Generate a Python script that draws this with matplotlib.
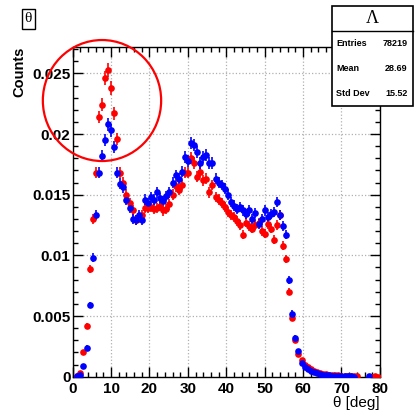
import numpy as np
import matplotlib
matplotlib.use('Agg')
import matplotlib.pyplot as plt
from matplotlib.patches import Ellipse, Rectangle
from matplotlib.ticker import MultipleLocator, FuncFormatter

# histogram: 100 bins over 0-80 deg
n_bins = 100
x_lo, x_hi = 0.0, 80.0

red_vals = [
    0.0, 0.00003, 0.0003, 0.0020, 0.0042, 0.0089, 0.0130, 0.0168, 0.0214, 0.0224,
    0.0246, 0.0253, 0.0238, 0.0217, 0.0196, 0.0168, 0.0160, 0.0150, 0.0143, 0.0137,
    0.0129, 0.0131, 0.0133, 0.0139, 0.0139, 0.0140, 0.0138, 0.0139, 0.0141, 0.0137,
    0.0138, 0.0142, 0.0150, 0.0157, 0.0154, 0.0158, 0.0168, 0.0168, 0.0180, 0.0176,
    0.0165, 0.0169, 0.0162, 0.0163, 0.0152, 0.0158, 0.0148, 0.0146, 0.0143, 0.0140,
    0.0136, 0.0133, 0.0132, 0.0128, 0.0125, 0.0117, 0.0127, 0.0124, 0.0122, 0.0125,
    0.0127, 0.0120, 0.0118, 0.0126, 0.0122, 0.0113, 0.0125, 0.0133, 0.0108, 0.0097,
    0.0070, 0.0048, 0.0030, 0.0019, 0.0014, 0.0010, 0.0008, 0.0006, 0.0005, 0.0004,
    0.0003, 0.00025, 0.0002, 0.00015, 0.00012, 0.0001, 0.0001, 0.00008, 0.00006, 0.00005,
    0.00005, 0.00003, 0.00002, 0.0, 0.0, 0.0, 0.0, 0.00001, 0.00002, 0.00001,
]

blue_vals = [
    0.0, 0.00003, 0.0001, 0.0009, 0.0024, 0.0059, 0.0098, 0.0133, 0.0168, 0.0182,
    0.0195, 0.0208, 0.0203, 0.0189, 0.0168, 0.0159, 0.0156, 0.0146, 0.0139, 0.0130,
    0.0129, 0.0133, 0.0129, 0.0146, 0.0143, 0.0148, 0.0146, 0.0152, 0.0147, 0.0145,
    0.0149, 0.0152, 0.0160, 0.0166, 0.0163, 0.0169, 0.0181, 0.0178, 0.0193, 0.0191,
    0.0185, 0.0176, 0.0181, 0.0183, 0.0176, 0.0176, 0.0163, 0.0160, 0.0158, 0.0155,
    0.0150, 0.0144, 0.0141, 0.0138, 0.0140, 0.0137, 0.0134, 0.0137, 0.0130, 0.0135,
    0.0126, 0.0130, 0.0137, 0.0132, 0.0134, 0.0136, 0.0144, 0.0133, 0.0124, 0.0117,
    0.0080, 0.0052, 0.0032, 0.0021, 0.0011, 0.0008, 0.0006, 0.0005, 0.0004, 0.0003,
    0.0002, 0.00015, 0.0001, 0.0001, 0.00008, 0.00006, 0.00005, 0.00004, 0.00003, 0.00002,
    0.00002, 0.00001, 0.0, 0.0, 0.0, 0.0, 0.00002, 0.0, 0.0, 0.0,
]

n_entries = 78219
mean_val = 28.69
std_val = 15.52

plt.rcParams['font.family'] = ['Liberation Sans', 'DejaVu Sans']

fig = plt.figure(figsize=(4.17, 4.12), dpi=100)
ax = fig.add_axes([0.1743, 0.0857, 0.7367, 0.801])

edges = np.linspace(x_lo, x_hi, n_bins + 1)
centers = 0.5 * (edges[:-1] + edges[1:])
half_w = 0.5 * (edges[1] - edges[0])

# red first, blue on top
for vals, col in [(red_vals, 'red'), (blue_vals, 'blue')]:
    v = np.array(vals)
    m = v > 0
    err = np.sqrt(v[m] / n_entries)
    ax.errorbar(centers[m], v[m], yerr=err, xerr=half_w, fmt='o', color=col,
                ms=4.8, mew=0, elinewidth=1.2, capsize=0, zorder=3)

ax.set_xlim(x_lo, x_hi)
ax.set_ylim(0, 0.0272)

ax.xaxis.set_major_locator(MultipleLocator(10))
ax.xaxis.set_minor_locator(MultipleLocator(2))
ax.yaxis.set_major_locator(MultipleLocator(0.005))
ax.yaxis.set_minor_locator(MultipleLocator(0.001))
ax.yaxis.set_major_formatter(FuncFormatter(lambda y, p: '%g' % round(y, 4)))

ax.tick_params(which='both', direction='in', top=True, right=True, width=1)
ax.tick_params(which='major', length=7.5)
ax.tick_params(which='minor', length=3.8)
ax.tick_params(axis='x', which='major', pad=3.5, labelsize=11)
ax.tick_params(axis='y', which='major', pad=1.5, labelsize=11)
for lab in ax.get_xticklabels() + ax.get_yticklabels():
    lab.set_fontweight('bold')

ax.grid(True, which='major', linestyle=':', color='#b0b0b0', linewidth=0.9)
ax.set_axisbelow(True)
for sp in ax.spines.values():
    sp.set_linewidth(1.0)

ax.set_ylabel('Counts', fontsize=10.5, fontweight='bold', loc='top', labelpad=4)
ax.set_xlabel('θ [deg]', fontsize=11, loc='right', labelpad=0)

# title box
fig.text(0.068, 0.954, 'θ', fontsize=11, family=['Liberation Serif', 'DejaVu Serif'],
         ha='center', va='center',
         bbox=dict(boxstyle='square,pad=0.2', fc='white', ec='black', lw=1.0))

# stats box
bx0, bx1, by0, by1 = 0.7955, 0.991, 0.7427, 0.9854
fig.patches.append(Rectangle((bx0, by0), bx1 - bx0, by1 - by0, transform=fig.transFigure,
                             fc='white', ec='black', lw=1.2, zorder=5))
fig.add_artist(plt.Line2D([bx0, bx1], [0.9248, 0.9248], transform=fig.transFigure,
                          color='black', lw=1.0, zorder=6))
fig.text((bx0 + bx1) / 2, 0.955, 'Λ', fontsize=13,
         family=['Liberation Serif', 'DejaVu Serif'], ha='center', va='center', zorder=7)
rows = [('Entries', '%d' % n_entries), ('Mean', '%.2f' % mean_val), ('Std Dev', '%.2f' % std_val)]
for (name, val), yy in zip(rows, [0.894, 0.834, 0.7735]):
    fig.text(0.806, yy, name, fontsize=6.5, fontweight='bold', ha='left', va='center', zorder=7)
    fig.text(0.978, yy, val, fontsize=6.5, fontweight='bold', ha='right', va='center', zorder=7)

# highlight circle around the peak
fig.patches.append(Ellipse((0.2446, 0.756), 0.2837, 0.2937, transform=fig.transFigure,
                           fill=False, ec='red', lw=1.6, zorder=8))

fig.savefig('out.png', dpi=100)
